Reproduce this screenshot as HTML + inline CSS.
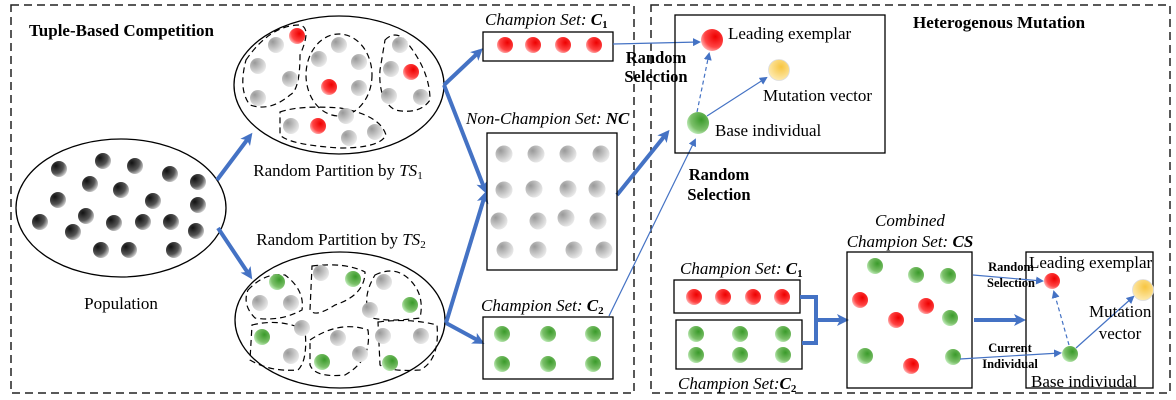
<!DOCTYPE html>
<html><head><meta charset="utf-8"><style>
html,body{margin:0;padding:0;background:#fff;}
svg{display:block;font-family:"Liberation Serif",serif;}
</style></head><body>
<svg width="1176" height="400" viewBox="0 0 1176 400" xmlns="http://www.w3.org/2000/svg">
<defs>
<radialGradient id="dk" cx="0.3" cy="0.3" r="0.8"><stop offset="0" stop-color="#111"/><stop offset="0.6" stop-color="#555"/><stop offset="1" stop-color="#ddd"/></radialGradient>
<radialGradient id="gy" cx="0.3" cy="0.3" r="0.8"><stop offset="0" stop-color="#999"/><stop offset="1" stop-color="#eee"/></radialGradient>
<radialGradient id="rd" cx="0.65" cy="0.35" r="0.8"><stop offset="0" stop-color="#e00"/><stop offset="0.6" stop-color="#f44"/><stop offset="1" stop-color="#fdd"/></radialGradient>
<radialGradient id="gr" cx="0.65" cy="0.35" r="0.8"><stop offset="0" stop-color="#3a9a2a"/><stop offset="0.6" stop-color="#7cc06a"/><stop offset="1" stop-color="#dfd"/></radialGradient>
<radialGradient id="yl" cx="0.6" cy="0.35" r="0.8"><stop offset="0" stop-color="#f7c540"/><stop offset="1" stop-color="#fff2c8"/></radialGradient>
<marker id="ah" markerWidth="8" markerHeight="8" refX="6" refY="4" orient="auto" markerUnits="userSpaceOnUse"><path d="M0,0 L8,4 L0,8 Z" fill="#4472C4"/></marker>
<marker id="ahb" markerWidth="12" markerHeight="12" refX="8" refY="6" orient="auto" markerUnits="userSpaceOnUse"><path d="M0,0 L12,6 L0,12 L3,6 Z" fill="#4472C4"/></marker>
</defs>

<rect x="11" y="5" width="623" height="388" fill="none" stroke="#222" stroke-width="1.5" stroke-dasharray="8,5"/>
<rect x="651" y="5" width="519" height="388" fill="none" stroke="#222" stroke-width="1.5" stroke-dasharray="8,5"/>

<text x="29" y="36" font-size="17" font-weight="bold">Tuple-Based Competition</text>
<text x="913" y="28" font-size="17" font-weight="bold">Heterogenous Mutation</text>

<ellipse cx="121" cy="208" rx="105" ry="69" fill="none" stroke="#000" stroke-width="1.3"/>
<g fill="url(#dk)">
<circle cx="59" cy="169" r="8"/><circle cx="103" cy="161" r="8"/><circle cx="135" cy="166" r="8"/><circle cx="170" cy="174" r="8"/><circle cx="198" cy="182" r="8"/>
<circle cx="90" cy="184" r="8"/><circle cx="121" cy="190" r="8"/><circle cx="153" cy="201" r="8"/><circle cx="198" cy="205" r="8"/><circle cx="58" cy="200" r="8"/>
<circle cx="86" cy="216" r="8"/><circle cx="114" cy="223" r="8"/><circle cx="143" cy="222" r="8"/><circle cx="171" cy="222" r="8"/><circle cx="196" cy="231" r="8"/>
<circle cx="40" cy="222" r="8"/><circle cx="73" cy="232" r="8"/><circle cx="101" cy="250" r="8"/><circle cx="129" cy="250" r="8"/><circle cx="174" cy="250" r="8"/>
</g>
<text x="121" y="309" font-size="17" text-anchor="middle">Population</text>

<ellipse cx="339" cy="85" rx="105" ry="69" fill="none" stroke="#000" stroke-width="1.3"/>
<g fill="none" stroke="#000" stroke-width="1.2" stroke-dasharray="6,4">
<path d="M246,60 Q270,25 300,25 Q312,28 300,55 Q300,90 290,95 Q270,112 250,105 Q238,90 246,60Z"/>
<ellipse cx="339" cy="75" rx="33" ry="41"/>
<path d="M385,40 Q395,30 405,40 Q430,70 430,100 Q420,115 395,110 Q378,100 380,70Z"/>
<path d="M280,112 Q300,105 340,108 Q380,115 386,135 Q380,148 340,148 Q290,145 280,135Z"/>
</g>
<g fill="url(#gy)">
<circle cx="276" cy="45" r="8"/><circle cx="258" cy="66" r="8"/><circle cx="290" cy="79" r="8"/><circle cx="258" cy="98" r="8"/>
<circle cx="339" cy="45" r="8"/><circle cx="319" cy="59" r="8"/><circle cx="359" cy="62" r="8"/><circle cx="359" cy="88" r="8"/>
<circle cx="400" cy="45" r="8"/><circle cx="391" cy="69" r="8"/><circle cx="421" cy="97" r="8"/><circle cx="389" cy="96" r="8"/>
<circle cx="291" cy="126" r="8"/><circle cx="346" cy="116" r="8"/><circle cx="349" cy="138" r="8"/><circle cx="375" cy="132" r="8"/>
</g>
<g fill="url(#rd)"><circle cx="297" cy="36" r="8"/><circle cx="329" cy="87" r="8"/><circle cx="411" cy="72" r="8"/><circle cx="318" cy="126" r="8"/></g>
<text x="338" y="176" font-size="17" text-anchor="middle">Random Partition by <tspan font-style="italic">TS</tspan><tspan font-size="11" dy="3">1</tspan></text>
<text x="341" y="245" font-size="17" text-anchor="middle">Random Partition by <tspan font-style="italic">TS</tspan><tspan font-size="11" dy="3">2</tspan></text>

<ellipse cx="340" cy="320" rx="105" ry="68" fill="none" stroke="#000" stroke-width="1.3"/>
<g fill="none" stroke="#000" stroke-width="1.2" stroke-dasharray="6,4">
<path d="M248,290 Q265,272 285,275 Q305,290 302,310 Q280,322 255,318 Q242,305 248,290Z"/>
<path d="M312,266 Q345,262 365,272 Q365,295 335,305 Q315,318 310,310Z"/>
<path d="M375,275 Q395,265 410,280 Q425,295 420,318 Q390,322 372,318 Q360,300 375,275Z"/>
<path d="M252,325 Q280,318 305,330 Q308,360 298,370 Q270,372 250,360 Z"/>
<path d="M310,340 Q340,320 368,330 Q372,360 345,375 Q315,378 310,365Z"/>
<path d="M378,322 Q410,318 437,325 Q440,360 420,370 Q390,372 380,365Z"/>
</g>
<g fill="url(#gy)">
<circle cx="321" cy="273" r="8"/><circle cx="260" cy="303" r="8"/><circle cx="291" cy="303" r="8"/><circle cx="384" cy="282" r="8"/>
<circle cx="370" cy="310" r="8"/><circle cx="302" cy="328" r="8"/><circle cx="338" cy="338" r="8"/><circle cx="291" cy="356" r="8"/>
<circle cx="360" cy="354" r="8"/><circle cx="383" cy="336" r="8"/><circle cx="421" cy="336" r="8"/>
</g>
<g fill="url(#gr)"><circle cx="277" cy="282" r="8"/><circle cx="353" cy="279" r="8"/><circle cx="410" cy="305" r="8"/><circle cx="262" cy="337" r="8"/><circle cx="322" cy="362" r="8"/><circle cx="390" cy="363" r="8"/></g>

<g stroke="#4472C4" stroke-width="4" fill="none" marker-end="url(#ahb)">
<line x1="217" y1="180" x2="250" y2="136"/>
<line x1="218" y1="228" x2="250" y2="276"/>
<line x1="444" y1="85" x2="480" y2="51"/>
<line x1="444" y1="85" x2="485" y2="190"/>
<line x1="446" y1="323" x2="485" y2="195"/>
<line x1="446" y1="323" x2="481" y2="342"/>
<line x1="617" y1="195" x2="667" y2="133"/>
</g>

<text x="485" y="25" font-size="17" font-style="italic">Champion Set: <tspan font-weight="bold">C</tspan><tspan font-size="11" font-weight="bold" font-style="normal" dy="3">1</tspan></text>
<rect x="483" y="32" width="130" height="29" fill="none" stroke="#000" stroke-width="1.3"/>
<g fill="url(#rd)"><circle cx="505" cy="45" r="8"/><circle cx="533" cy="45" r="8"/><circle cx="563" cy="45" r="8"/><circle cx="594" cy="45" r="8"/></g>

<text x="466" y="124" font-size="17" font-style="italic">Non-Champion Set: <tspan font-weight="bold">NC</tspan></text>
<rect x="487" y="133" width="130" height="137" fill="none" stroke="#000" stroke-width="1.3"/>
<g fill="url(#gy)">
<circle cx="504" cy="154" r="8.5"/><circle cx="536" cy="154" r="8.5"/><circle cx="568" cy="154" r="8.5"/><circle cx="601" cy="154" r="8.5"/>
<circle cx="504" cy="190" r="8.5"/><circle cx="534" cy="189" r="8.5"/><circle cx="568" cy="189" r="8.5"/><circle cx="597" cy="189" r="8.5"/>
<circle cx="499" cy="221" r="8.5"/><circle cx="538" cy="221" r="8.5"/><circle cx="566" cy="218" r="8.5"/><circle cx="598" cy="221" r="8.5"/>
<circle cx="505" cy="250" r="8.5"/><circle cx="538" cy="250" r="8.5"/><circle cx="574" cy="250" r="8.5"/><circle cx="604" cy="250" r="8.5"/>
</g>

<text x="481" y="311" font-size="17" font-style="italic">Champion Set: <tspan font-weight="bold">C</tspan><tspan font-size="11" font-weight="bold" font-style="normal" dy="3">2</tspan></text>
<rect x="483" y="317" width="130" height="62" fill="none" stroke="#000" stroke-width="1.3"/>
<g fill="url(#gr)"><circle cx="502" cy="334" r="8"/><circle cx="548" cy="334" r="8"/><circle cx="593" cy="334" r="8"/><circle cx="502" cy="364" r="8"/><circle cx="548" cy="364" r="8"/><circle cx="593" cy="364" r="8"/></g>

<g stroke="#4472C4" stroke-width="1.2" fill="none" marker-end="url(#ah)">
<line x1="613" y1="44" x2="699" y2="42"/>
<line x1="609" y1="316" x2="695" y2="140"/>
</g>
<text x="656" y="63" font-size="16.5" font-weight="bold" text-anchor="middle">Random</text>
<text x="656" y="82" font-size="16.5" font-weight="bold" text-anchor="middle">Selection</text>
<text x="719" y="180" font-size="16.5" font-weight="bold" text-anchor="middle">Random</text>
<text x="719" y="200" font-size="16.5" font-weight="bold" text-anchor="middle">Selection</text>

<rect x="675" y="15" width="210" height="138" fill="none" stroke="#000" stroke-width="1.3"/>
<circle cx="712" cy="40" r="11" fill="url(#rd)"/>
<circle cx="779" cy="70" r="10.5" fill="url(#yl)" stroke="#ddd" stroke-width="0.8"/>
<circle cx="698" cy="123" r="11" fill="url(#gr)"/>
<line x1="697" y1="112" x2="709" y2="54" stroke="#4472C4" stroke-width="1.2" stroke-dasharray="4,3" marker-end="url(#ah)"/>
<line x1="707" y1="116" x2="766" y2="78" stroke="#4472C4" stroke-width="1.2" marker-end="url(#ah)"/>
<text x="728" y="39" font-size="17">Leading exemplar</text>
<text x="763" y="101" font-size="17">Mutation vector</text>
<text x="715" y="136" font-size="17">Base individual</text>

<text x="680" y="274" font-size="17" font-style="italic">Champion Set: <tspan font-weight="bold">C</tspan><tspan font-size="11" font-weight="bold" font-style="normal" dy="3">1</tspan></text>
<rect x="674" y="280" width="126" height="33" fill="none" stroke="#000" stroke-width="1.3"/>
<g fill="url(#rd)"><circle cx="694" cy="297" r="8"/><circle cx="723" cy="297" r="8"/><circle cx="753" cy="297" r="8"/><circle cx="782" cy="297" r="8"/></g>
<rect x="676" y="320" width="126" height="49" fill="none" stroke="#000" stroke-width="1.3"/>
<g fill="url(#gr)"><circle cx="696" cy="334" r="8"/><circle cx="740" cy="334" r="8"/><circle cx="783" cy="334" r="8"/><circle cx="696" cy="355" r="8"/><circle cx="740" cy="355" r="8"/><circle cx="783" cy="355" r="8"/></g>
<text x="678" y="389" font-size="17" font-style="italic">Champion Set:<tspan font-weight="bold">C</tspan><tspan font-size="11" font-weight="bold" font-style="normal" dy="3">2</tspan></text>
<path d="M800,297 H816 V343 H802" fill="none" stroke="#4472C4" stroke-width="4"/>
<line x1="816" y1="320" x2="845" y2="320" stroke="#4472C4" stroke-width="4" marker-end="url(#ahb)"/>

<text x="910" y="226" font-size="17" font-style="italic" text-anchor="middle">Combined</text>
<text x="910" y="247" font-size="17" font-style="italic" text-anchor="middle">Champion Set: <tspan font-weight="bold">CS</tspan></text>
<rect x="847" y="252" width="125" height="136" fill="none" stroke="#000" stroke-width="1.3"/>
<g fill="url(#gr)"><circle cx="875" cy="266" r="8"/><circle cx="916" cy="275" r="8"/><circle cx="948" cy="276" r="8"/><circle cx="950" cy="318" r="8"/><circle cx="865" cy="356" r="8"/><circle cx="953" cy="357" r="8"/></g>
<g fill="url(#rd)"><circle cx="860" cy="300" r="8"/><circle cx="926" cy="306" r="8"/><circle cx="896" cy="320" r="8"/><circle cx="911" cy="366" r="8"/></g>
<line x1="974" y1="320" x2="1022" y2="320" stroke="#4472C4" stroke-width="4" marker-end="url(#ahb)"/>

<rect x="1026" y="252" width="127" height="136" fill="none" stroke="#000" stroke-width="1.3"/>
<circle cx="1052" cy="281" r="8" fill="url(#rd)"/>
<circle cx="1143" cy="290" r="10.5" fill="url(#yl)" stroke="#ddd" stroke-width="0.8"/>
<circle cx="1070" cy="354" r="8" fill="url(#gr)"/>
<g stroke="#4472C4" stroke-width="1.2" fill="none">
<line x1="973" y1="275" x2="1042" y2="281" marker-end="url(#ah)"/>
<line x1="960" y1="359" x2="1060" y2="353" marker-end="url(#ah)"/>
<line x1="1069" y1="345" x2="1054" y2="292" stroke-dasharray="4,3" marker-end="url(#ah)"/>
<line x1="1076" y1="348" x2="1133" y2="297" marker-end="url(#ah)"/>
</g>
<text x="1011" y="271" font-size="12.5" font-weight="bold" text-anchor="middle">Random</text>
<text x="1011" y="287" font-size="12.5" font-weight="bold" text-anchor="middle">Selection</text>
<text x="1010" y="352" font-size="12.5" font-weight="bold" text-anchor="middle">Current</text>
<text x="1010" y="368" font-size="12.5" font-weight="bold" text-anchor="middle">Individual</text>
<text x="1029" y="268" font-size="17">Leading exemplar</text>
<text x="1089" y="317" font-size="17">Mutation</text>
<text x="1120" y="339" font-size="17" text-anchor="middle">vector</text>
<text x="1031" y="387" font-size="17">Base indiviudal</text>
</svg>
</body></html>
